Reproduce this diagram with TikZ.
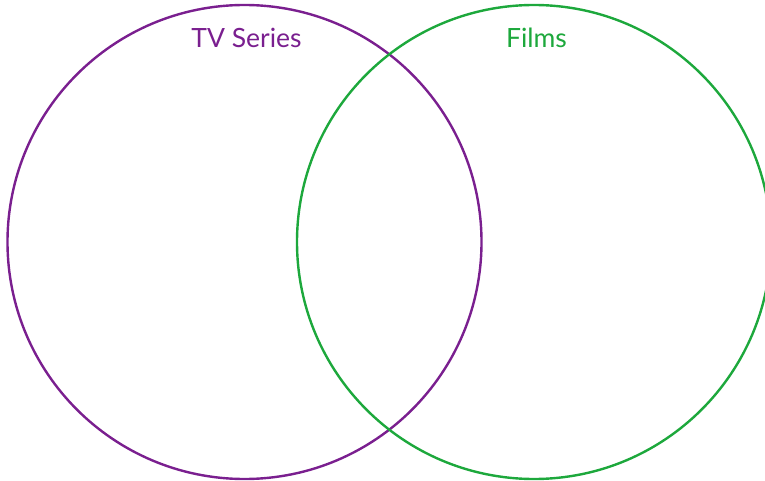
\documentclass[tikz,border=0pt]{standalone}
\usepackage{fontspec}
\setmainfont{Lato}
\definecolor{tvpurple}{HTML}{7A1F8F}
\definecolor{filmgreen}{HTML}{1DA83C}
\begin{document}
\begin{tikzpicture}[x=1pt,y=-1pt,
  setcircle/.style={draw=#1, line width=2.4pt, circle, minimum size=474pt, inner sep=0pt},
  setlabel/.style={text=#1, font=\fontsize{26.5}{30}\selectfont, inner sep=0pt, anchor=base}]
\useasboundingbox (0,0) rectangle (765,481);
\clip (0,0) rectangle (765,481);
\node[setcircle=tvpurple] (tv) at (244.5,242) {};
\node[setcircle=filmgreen] (films) at (534,242) {};
\node[setlabel=tvpurple] (tvlabel) at (246.5,47.5) {TV Series};
\node[setlabel=filmgreen] (filmslabel) at (536.5,47.5) {Films};
\end{tikzpicture}
\end{document}
